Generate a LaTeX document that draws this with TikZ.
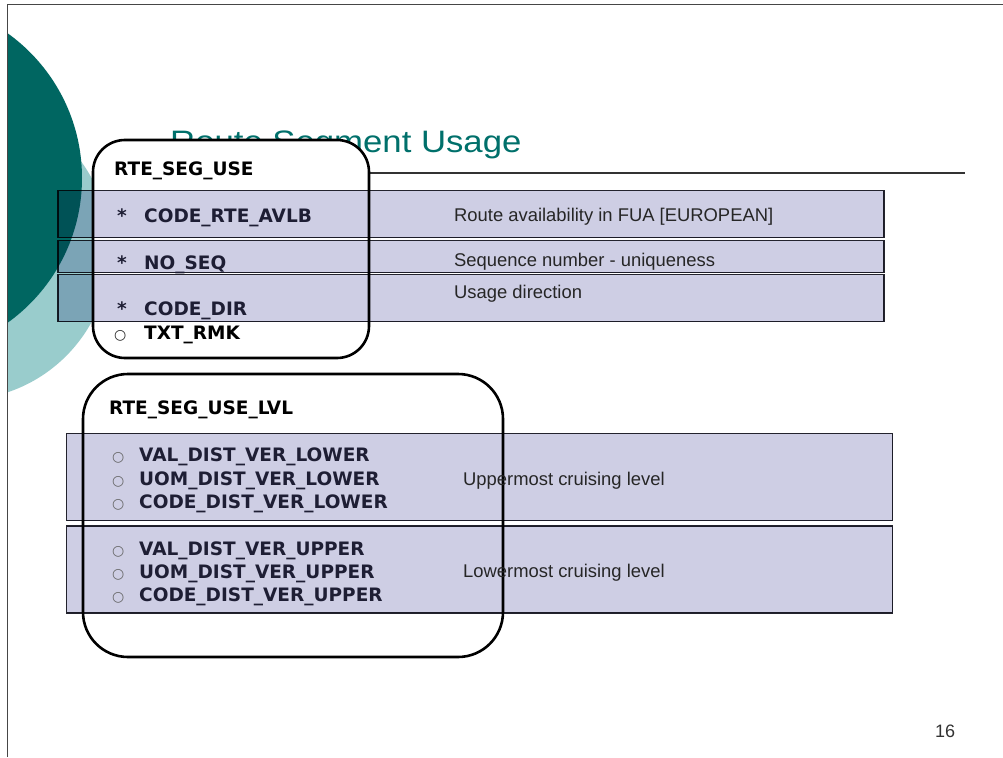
\documentclass[tikz,border=0pt]{standalone}
\usepackage{fontspec}
\setmainfont{Liberation Sans}
\newfontfamily\fieldfont{DejaVu Sans}
\newfontfamily\titlefont[FakeStretch=1.12]{Liberation Sans}
\definecolor{tealdark}{RGB}{0,102,97}
\definecolor{teallight}{RGB}{153,204,204}
\definecolor{titleteal}{RGB}{0,112,107}
\definecolor{rowtint}{RGB}{206,206,228}
\definecolor{rowedge}{RGB}{35,35,45}
\definecolor{fieldink}{RGB}{30,30,52}
\definecolor{frameline}{RGB}{70,70,70}
\tikzset{
  rowband/.style={fill=rowtint, draw=rowedge, line width=1.1pt},
  entitybox/.style={draw=black, line width=2.6pt},
  entitylabel/.style={font=\fieldfont\bfseries\fontsize{18.5}{22}\selectfont, inner sep=0, anchor=base west, text=black},
  field/.style={font=\fieldfont\bfseries\fontsize{18.5}{22}\selectfont, inner sep=0, anchor=base west, text=fieldink},
  bulletmark/.style={font=\fieldfont\fontsize{14}{16}\selectfont, inner sep=0, anchor=base west, text=black!60},
  desc/.style={font=\fontsize{18.4}{22}\selectfont, inner sep=0, anchor=base west, text=black!85},
}
\begin{document}
\begin{tikzpicture}[x=1pt,y=-1pt]
\useasboundingbox (0,0) rectangle (1003,757);
\fill[white] (0,0) rectangle (1003,757);

% decorative circles on the left edge
\begin{scope}
  \clip (7,4) rectangle (1003,757);
  \fill[teallight] (-40,250) circle[radius=150];
  \fill[tealdark] (-96,178) circle[radius=178];
\end{scope}

% slide frame
\draw[frameline, line width=0.8pt] (7,757) -- (7,4) -- (1003,4);

% title and its rule
\node[font=\titlefont\fontsize{31}{36}\selectfont, text=titleteal, inner sep=0, anchor=base west] (title) at (170,152) {Route Segment Usage};
\draw[black!80, line width=1.3pt] (170,173) -- (965,173);

% entity boxes (white bodies)
\fill[white, rounded corners=32pt] (93,140) rectangle (369,358);
\fill[white, rounded corners=45pt] (83,374) rectangle (503,657);

% shaded rows, multiplied onto what lies beneath
\begin{scope}[blend mode=multiply]
  \draw[rowband] (58,190.5) rectangle (884,237.5);
  \draw[rowband] (58,240.5) rectangle (884,272.5);
  \draw[rowband] (58,274.5) rectangle (884,321.5);
  \draw[rowband] (66.5,433.5) rectangle (892.5,520.5);
  \draw[rowband] (66.5,526) rectangle (892.5,613);
\end{scope}

% entity outlines
\draw[entitybox, rounded corners=32pt] (93,140) rectangle (369,358);
\draw[entitybox, rounded corners=45pt] (83,374) rectangle (503,657);

% attribute texts of RTE_SEG_USE
\node[field] (s1) at (117,222) {*};
\node[field] (f1) at (144,222) {CODE\_RTE\_AVLB};
\node[field] (s2) at (117,269) {*};
\node[field] (f2) at (144,269) {NO\_SEQ};
\node[field] (s3) at (117,315.5) {*};
\node[field] (f3) at (144,315.5) {CODE\_DIR};
\node[desc] (d1) at (454,221) {Route availability in FUA [EUROPEAN]};
\node[desc] (d2) at (454,266) {Sequence number - uniqueness};
\node[desc] (d3) at (454,298.5) {Usage direction};

% attribute texts of RTE_SEG_USE_LVL
\foreach \y/\t [count=\i] in {461.7/VAL\_DIST\_VER\_LOWER, 485/UOM\_DIST\_VER\_LOWER, 508.3/CODE\_DIST\_VER\_LOWER,
                             555/VAL\_DIST\_VER\_UPPER, 578.3/UOM\_DIST\_VER\_UPPER, 601.7/CODE\_DIST\_VER\_UPPER}{
  \node[bulletmark] (b\i) at (112,\y) {○};
  \node[field] (g\i) at (139,\y) {\t};
}
\node[desc] (d4) at (463,485) {Uppermost cruising level};
\node[desc] (d5) at (463,577.3) {Lowermost cruising level};

% labels outside the rows
\node[entitylabel] (e1) at (114,175) {RTE\_SEG\_USE};
\node[bulletmark, text=black!85] (b0) at (114,339.5) {○};
\node[entitylabel] (f4) at (144,339.5) {TXT\_RMK};
\node[entitylabel] (e2) at (109,414) {RTE\_SEG\_USE\_LVL};

% page number
\node[font=\fontsize{18}{20}\selectfont, text=black!80, inner sep=0, anchor=base west] (page) at (935,737) {16};
\end{tikzpicture}
\end{document}
